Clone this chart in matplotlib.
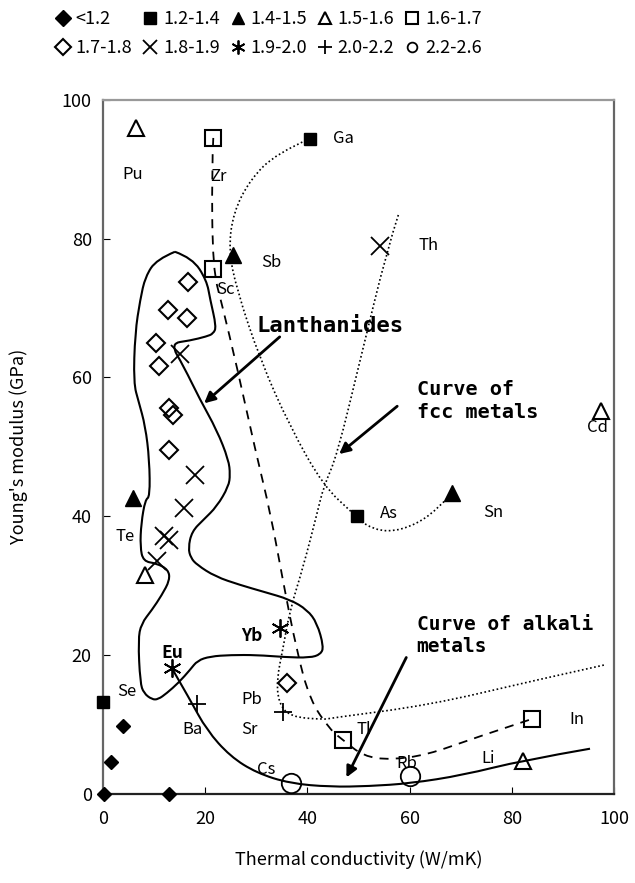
import matplotlib
matplotlib.use("Agg")
import matplotlib.pyplot as plt
from matplotlib.lines import Line2D
from matplotlib.path import Path
from matplotlib.patches import PathPatch

plt.rcParams['font.family'] = ['Noto Sans CJK JP', 'DejaVu Sans']

# data points grouped by legend class
cls_labels = ['<1.2', '1.2-1.4', '1.4-1.5', '1.5-1.6', '1.6-1.7',
              '1.7-1.8', '1.8-1.9', '1.9-2.0', '2.0-2.2', '2.2-2.6']

x_lt12 = [0.2, 13.0, 1.5, 4.0]
y_lt12 = [0.0, 0.0, 4.6, 9.8]
x_1214 = [40.5, 49.8, 0.0]
y_1214 = [94.4, 40.0, 13.2]
x_1415 = [25.5, 5.8, 68.3]
y_1415 = [77.7, 42.6, 43.3]
x_1516 = [6.4, 97.4, 8.3, 82.1]
y_1516 = [95.9, 55.2, 31.6, 4.8]
x_1617 = [21.6, 21.5, 46.9, 84.0]
y_1617 = [94.5, 75.6, 7.8, 10.8]
x_1718 = [16.7, 12.8, 16.4, 10.3, 10.9, 12.95, 13.8, 12.95, 36.1]
y_1718 = [73.7, 69.7, 68.5, 64.9, 61.6, 55.6, 54.6, 49.6, 15.9]
x_1819 = [15.0, 18.0, 15.9, 12.0, 13.0, 10.5, 54.2]
y_1819 = [63.3, 46.0, 41.2, 37.2, 36.5, 33.5, 78.9]
x_1920 = [34.7, 13.5]
y_1920 = [23.9, 18.1]
x_2022 = [18.4, 35.2]
y_2022 = [13.0, 11.8]
x_2226 = [36.8, 60.0]
y_2226 = [1.5, 2.5]

# element names
elem_names = ['Pu', 'Zr', 'Ga', 'Sb', 'Sc', 'Th', 'Cd', 'As', 'Sn', 'Te',
              'Se', 'Ba', 'Pb', 'Sr', 'Cs', 'Tl', 'Rb', 'Li', 'In']
elem_x = [5.9, 22.5, 47.0, 33.0, 23.9, 63.7, 96.7, 55.9, 76.4, 4.3,
          4.7, 17.6, 29.1, 28.7, 32.0, 51.0, 59.5, 75.4, 92.7]
elem_y = [89.2, 89.0, 94.4, 76.5, 72.6, 79.0, 52.8, 40.4, 40.6, 37.1,
          14.7, 9.2, 13.6, 9.3, 3.5, 9.2, 4.4, 5.1, 10.7]
bold_names = ['Yb', 'Eu']
bold_x = [29.1, 13.5]
bold_y = [22.8, 20.3]

# hand-drawn guide curves (control points)
lan_x = [14.1, 17.5, 20.3, 21.0, 22.2, 21.6, 20.3, 17.0, 13.2, 15.8, 19.0, 22.3, 24.6,
         24.9, 24.6, 22.3, 19.7, 17.4, 16.7, 17.2, 18.4, 22.0, 26.8, 31.5, 36.6, 40.0,
         41.9, 43.2, 42.6, 40.5, 35.5, 30.1, 25.0, 21.0, 18.5, 17.1, 14.8, 12.5, 10.8,
         9.6, 8.0, 7.3, 6.9, 7.5, 9.6, 11.5, 13.1, 12.8, 10.5, 7.9, 7.3, 7.5, 8.3, 9.2,
         9.1, 8.3, 7.0, 6.0, 6.3, 7.3, 8.3, 10.5, 14.1]
lan_y = [78.1, 77.2, 74.0, 71.2, 67.3, 66.3, 65.9, 65.3, 64.9, 61.6, 56.8, 52.4, 48.1,
         46.0, 44.3, 41.4, 39.5, 37.8, 35.4, 34.0, 33.0, 31.3, 30.1, 29.1, 28.0, 26.5,
         24.6, 21.2, 20.1, 19.6, 19.7, 20.0, 20.0, 19.8, 19.2, 17.9, 16.0, 14.5, 13.6,
         13.6, 14.5, 16.0, 22.2, 24.5, 26.5, 28.6, 30.8, 32.3, 33.2, 33.5, 35.6, 39.0,
         42.4, 42.8, 48.1, 53.0, 56.5, 59.2, 66.4, 71.2, 74.5, 77.0, 78.1]

alk_x = [13.5, 17.1, 20.3, 24.9, 30.1, 36.6, 44.5, 52.0, 60.1, 70.5, 82.0, 95.3]
alk_y = [18.1, 13.5, 9.2, 5.4, 3.0, 1.5, 1.0, 1.1, 1.5, 2.7, 4.8, 6.5]

dash_x = [21.6, 21.3, 21.5, 23.3, 26.2, 29.8, 32.8, 35.3, 37.9, 40.5, 44.5, 46.9,
          51.0, 56.2, 63.4, 72.5, 84.0]
dash_y = [94.5, 89.9, 75.6, 70.5, 61.6, 49.6, 40.4, 30.4, 20.7, 13.5, 9.2, 7.8,
          5.4, 4.9, 5.6, 8.0, 10.8]

ga_x = [40.5, 34.0, 28.8, 25.5, 24.6, 26.2, 30.8, 36.6, 43.2, 49.0, 51.0, 55.6,
        61.4, 66.0, 68.3]
ga_y = [94.4, 92.3, 88.5, 83.7, 78.4, 72.6, 62.5, 52.9, 44.3, 40.4, 38.8, 37.6,
        38.8, 41.4, 43.3]

fcc_x = [57.8, 55.6, 50.5, 45.8, 43.2, 41.9, 39.2, 36.6, 35.3, 34.0, 34.4, 36.6,
         43.2, 44.5, 64.0, 83.6, 98.3]
fcc_y = [83.4, 78.4, 63.0, 48.7, 44.3, 40.4, 32.7, 26.5, 21.2, 16.4, 13.1, 11.1,
         10.7, 10.9, 12.8, 16.2, 18.6]


def smooth_curve(ax, xs, ys, **kw):
    # quadratic bezier through midpoints of control polygon
    pts = list(zip(xs, ys))
    verts = [pts[0]]
    codes = [Path.MOVETO]
    for i in range(1, len(pts) - 1):
        mid = ((pts[i][0] + pts[i + 1][0]) / 2, (pts[i][1] + pts[i + 1][1]) / 2)
        if i == len(pts) - 2:
            mid = pts[-1]
        verts += [pts[i], mid]
        codes += [Path.CURVE3, Path.CURVE3]
    ax.add_patch(PathPatch(Path(verts, codes), fill=False, **kw))


fig = plt.figure(figsize=(6.35, 8.83), dpi=100)
ax = fig.add_axes([0.162, 0.101, 0.805, 0.786])

smooth_curve(ax, lan_x, lan_y, color='k', lw=1.5)
smooth_curve(ax, alk_x, alk_y, color='k', lw=1.5)
smooth_curve(ax, dash_x, dash_y, color='k', lw=1.3, ls=(0, (5, 4)))
smooth_curve(ax, ga_x, ga_y, color='k', lw=1.2, ls=(0, (1, 1.5)))
smooth_curve(ax, fcc_x, fcc_y, color='k', lw=1.2, ls=(0, (1, 1.5)))

styles = [
    dict(marker='D', ms=7, mfc='k', mec='k'),
    dict(marker='s', ms=9, mfc='k', mec='k'),
    dict(marker='^', ms=11, mfc='k', mec='k'),
    dict(marker='^', ms=12, mfc='none', mec='k', mew=1.5),
    dict(marker='s', ms=11, mfc='none', mec='k', mew=1.5),
    dict(marker='D', ms=9, mfc='none', mec='k', mew=1.5),
    dict(marker='x', ms=13, mec='k', mew=1.3),
    dict(marker=(6, 2, 0), ms=13, mec='k', mew=1.3),
    dict(marker='+', ms=13, mec='k', mew=1.3),
    dict(marker='o', ms=14, mfc='none', mec='k', mew=1.3),
]
series = [(x_lt12, y_lt12), (x_1214, y_1214), (x_1415, y_1415), (x_1516, y_1516),
          (x_1617, y_1617), (x_1718, y_1718), (x_1819, y_1819), (x_1920, y_1920),
          (x_2022, y_2022), (x_2226, y_2226)]
for (xs, ys), st in zip(series, styles):
    ax.plot(xs, ys, ls='none', clip_on=False, zorder=4, **st)

for n, x, y in zip(elem_names, elem_x, elem_y):
    ax.text(x, y, n, ha='center', va='center', fontsize=12)
for n, x, y in zip(bold_names, bold_x, bold_y):
    ax.text(x, y, n, ha='center', va='center', fontsize=12.5, fontweight='bold')

mono = dict(family='DejaVu Sans Mono', fontweight='bold')
arrow = dict(arrowstyle='-|>', color='k', lw=2, mutation_scale=16)
ax.text(30.0, 67.4, 'Lanthanides', fontsize=16, va='center', ha='left', **mono)
ax.annotate('', xy=(19.4, 56.0), xytext=(35.0, 66.1), arrowprops=arrow)
ax.text(61.4, 56.6, 'Curve of\nfcc metals', fontsize=14.5, va='center', ha='left',
        linespacing=1.25, **mono)
ax.annotate('', xy=(45.8, 48.7), xytext=(58.0, 56.1), arrowprops=arrow)
ax.text(61.4, 22.8, 'Curve of alkali\nmetals', fontsize=14, va='center', ha='left',
        linespacing=1.25, **mono)
ax.annotate('', xy=(47.4, 2.0), xytext=(59.6, 20.0), arrowprops=arrow)

ax.set_xlim(0, 100)
ax.set_ylim(0, 100)
ax.set_xticks([0, 20, 40, 60, 80, 100])
ax.set_yticks([0, 20, 40, 60, 80, 100])
ax.tick_params(direction='in', length=5, labelsize=13, pad=8)
ax.tick_params(axis='x', pad=12)
for s in ['left', 'right']:
    ax.spines[s].set_color('#666666')
    ax.spines[s].set_linewidth(1.6)
ax.spines['top'].set_color('#999999')
ax.spines['top'].set_linewidth(1.6)
ax.spines['bottom'].set_color('#222222')
ax.spines['bottom'].set_linewidth(1.6)
ax.set_xlabel('Thermal conductivity (W/mK)', fontsize=13, labelpad=16)
ax.set_ylabel("Young's modulus (GPa)", fontsize=13, labelpad=24)

leg_sizes = [8, 8, 9, 9, 8, 8, 10, 10, 10, 7]
handles = []
for st, sz in zip(styles, leg_sizes):
    d = dict(st)
    d['ms'] = sz
    handles.append(Line2D([], [], ls='none', **d))
order = [0, 5, 1, 6, 2, 7, 3, 8, 4, 9]
fig.legend([handles[i] for i in order], [cls_labels[i] for i in order], ncol=5,
           loc='upper left', bbox_to_anchor=(0.062, 1.007), frameon=False,
           fontsize=13, handlelength=0.8, handletextpad=0.3, columnspacing=0.6,
           labelspacing=0.62)

fig.savefig('out.png', dpi=100)
